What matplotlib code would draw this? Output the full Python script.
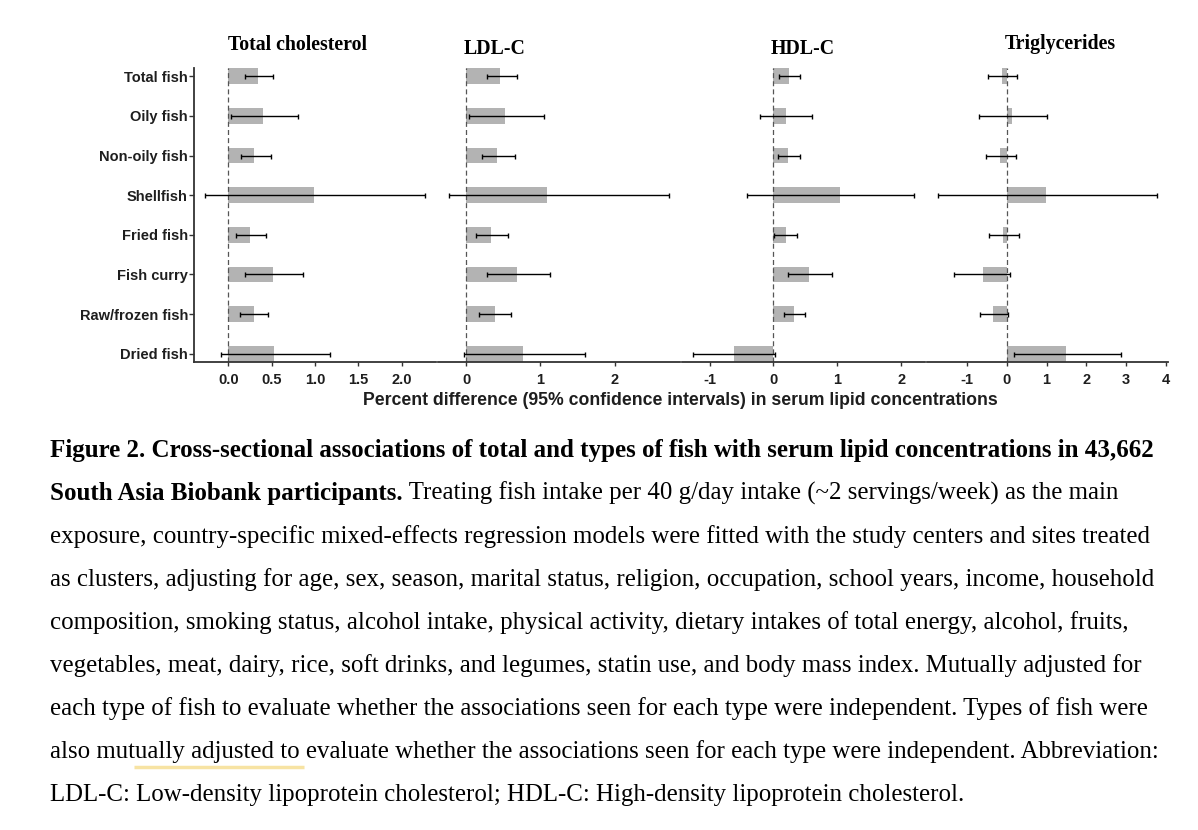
import numpy as np
import matplotlib.pyplot as plt

fish = ["Total fish", "Oily fish", "Non-oily fish", "Shellfish",
        "Fried fish", "Fish curry", "Raw/frozen fish", "Dried fish"]

tc_est = [0.34, 0.40, 0.30, 0.99, 0.25, 0.52, 0.30, 0.53]
tc_lo = [0.19, 0.03, 0.14, -0.27, 0.09, 0.19, 0.13, -0.09]
tc_hi = [0.51, 0.80, 0.49, 2.27, 0.44, 0.86, 0.46, 1.17]

ldl_est = [0.46, 0.52, 0.42, 1.09, 0.33, 0.69, 0.39, 0.76]
ldl_lo = [0.28, 0.04, 0.22, -0.23, 0.13, 0.28, 0.18, -0.03]
ldl_hi = [0.68, 1.05, 0.66, 2.73, 0.56, 1.13, 0.61, 1.60]

hdl_est = [0.25, 0.19, 0.23, 1.04, 0.19, 0.55, 0.32, -0.62]
hdl_lo = [0.09, -0.21, 0.07, -0.41, 0.01, 0.23, 0.16, -1.26]
hdl_hi = [0.42, 0.60, 0.42, 2.20, 0.37, 0.91, 0.50, 0.03]

tg_est = [-0.13, 0.13, -0.18, 0.98, -0.10, -0.60, -0.34, 1.49]
tg_lo = [-0.46, -0.70, -0.53, -1.73, -0.45, -1.32, -0.68, 0.17]
tg_hi = [0.25, 1.00, 0.23, 3.78, 0.31, 0.08, 0.03, 2.87]

titles = ["Total cholesterol", "LDL-C", "HDL-C", "Triglycerides"]
ticks = [[0, 0.5, 1, 1.5, 2], [0, 1, 2], [-1, 0, 1, 2], [-1, 0, 1, 2, 3, 4]]
tick_labels = [["0.0", "0.5", "1.0", "1.5", "2.0"], ["0", "1", "2"],
               ["-1", "0", "1", "2"], ["-1", "0", "1", "2", "3", "4"]]

caption = [
    "Figure 2. Cross-sectional associations of total and types of fish with serum lipid concentrations in 43,662",
    " Treating fish intake per 40 g/day intake (~2 servings/week) as the main",
    "exposure, country-specific mixed-effects regression models were fitted with the study centers and sites treated",
    "as clusters, adjusting for age, sex, season, marital status, religion, occupation, school years, income, household",
    "composition, smoking status, alcohol intake, physical activity, dietary intakes of total energy, alcohol, fruits,",
    "vegetables, meat, dairy, rice, soft drinks, and legumes, statin use, and body mass index. Mutually adjusted for",
    "each type of fish to evaluate whether the associations seen for each type were independent. Types of fish were",
    "also mutually adjusted to evaluate whether the associations seen for each type were independent. Abbreviation:",
    "LDL-C: Low-density lipoprotein cholesterol; HDL-C: High-density lipoprotein cholesterol.",
]
caption_bold2 = "South Asia Biobank participants."

panels = [(tc_est, tc_lo, tc_hi), (ldl_est, ldl_lo, ldl_hi),
          (hdl_est, hdl_lo, hdl_hi), (tg_est, tg_lo, tg_hi)]

W, H = 1198, 830
fig = plt.figure(figsize=(W / 100, H / 100), dpi=100)

# panel positions in pixels (left, right)
px = [(194, 436), (438, 680), (682, 925), (927, 1168)]
top, bot = 68.3, 361.7
title_pos = [(297.5, 50.5), (495, 54), (803, 53.5), (1060, 49.5)]

ypos = np.arange(len(fish), 0, -1)
sans = "Liberation Sans"
serif = "Liberation Serif"
txtcol = "#1e1e1e"

for i, (est, lo, hi) in enumerate(panels):
    l, r = px[i]
    ax = fig.add_axes([l / W, 1 - bot / H, (r - l) / W, (bot - top) / H])
    ax.barh(ypos, est, height=0.4, color="#b3b3b3", zorder=1)
    est = np.array(est)
    lo = np.array(lo)
    hi = np.array(hi)
    ax.errorbar(est, ypos, xerr=[est - lo, hi - est], fmt="none", ecolor="black",
                elinewidth=1.0, capsize=1.8, capthick=1.0, zorder=3, clip_on=False)
    ax.axvline(0, color="#555555", lw=0.9, ls=(0, (4, 2.5)), zorder=2)
    rng = hi.max() - lo.min()
    ax.set_xlim(lo.min() - 0.05 * rng, hi.max() + 0.05 * rng)
    ax.set_ylim(0.8, 8.2)
    for s in ["top", "right"]:
        ax.spines[s].set_visible(False)
    ax.spines["bottom"].set_color("#333333")
    ax.spines["bottom"].set_linewidth(1.3)
    ax.set_xticks(ticks[i])
    ax.set_xticklabels(tick_labels[i], fontfamily=sans, fontweight="bold",
                       fontsize=10.5, color=txtcol)
    ax.tick_params(axis="x", length=3, width=1, color="#333333", pad=5)
    if i == 0:
        ax.spines["left"].set_color("#333333")
        ax.spines["left"].set_linewidth(1.3)
        ax.set_yticks(ypos)
        ax.set_yticklabels(fish, fontfamily=sans, fontweight="bold",
                           fontsize=10.5, color=txtcol)
        ax.tick_params(axis="y", length=3.4, width=1, color="#333333", pad=1)
    else:
        ax.spines["left"].set_visible(False)
        ax.set_yticks([])
    tx, ty = title_pos[i]
    fig.text(tx / W, 1 - ty / H, titles[i], ha="center", va="baseline",
             fontfamily=serif, fontweight="bold", fontsize=14.3, color="black")

fig.text(680 / W, 1 - 400 / H,
         "Percent difference (95% confidence intervals) in serum lipid concentrations",
         ha="center", va="center", fontfamily=sans, fontweight="bold",
         fontsize=12.7, color=txtcol)

# caption
cap_size = 17.9
bold_size = 18.0
baselines = [457 + 43 * k for k in range(9)]
fig.text(50 / W, 1 - baselines[0] / H, caption[0], ha="left", va="baseline",
         fontfamily=serif, fontweight="bold", fontsize=bold_size, color="black")
b2 = fig.text(50 / W, 1 - baselines[1] / H, caption_bold2, ha="left", va="baseline",
              fontfamily=serif, fontweight="bold", fontsize=bold_size, color="black")
fig.canvas.draw()
bb = b2.get_window_extent()
fig.text(bb.x1 / W, 1 - baselines[1] / H, caption[1], ha="left", va="baseline",
         fontfamily=serif, fontsize=cap_size, color="black")
for k in range(2, 9):
    fig.text(50 / W, 1 - baselines[k] / H, caption[k], ha="left", va="baseline",
             fontfamily=serif, fontsize=cap_size, color="black")

# yellow highlight underline
fig.add_artist(plt.Line2D([134 / W, 304 / W], [1 - 766.7 / H, 1 - 766.7 / H],
                          color="#f7e3a3", lw=2.5, solid_capstyle="butt"))

fig.savefig("out.png", dpi=100)
